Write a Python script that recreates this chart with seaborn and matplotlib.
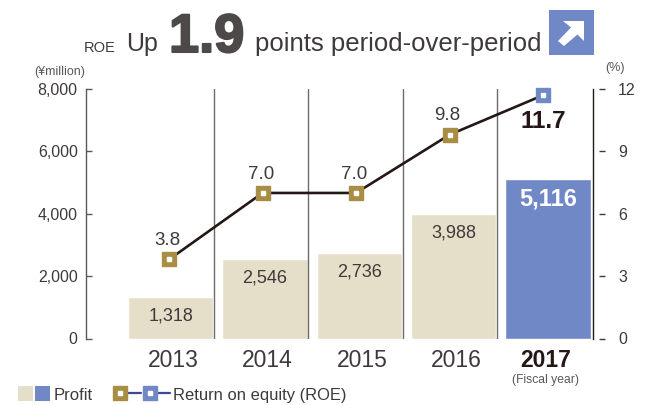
# Import libraries
import matplotlib
matplotlib.use("Agg")
import matplotlib.pyplot as plt
import matplotlib.patheffects as pe
from matplotlib.lines import Line2D
from matplotlib.patches import Polygon, Rectangle
from matplotlib.transforms import ScaledTranslation
import pandas as pd
import seaborn as sns

# Chart data
years = ["2013", "2014", "2015", "2016", "2017"]
profit = [1318, 2546, 2736, 3988, 5116]
profit_labels = ["1,318", "2,546", "2,736", "3,988", "5,116"]
roe = [3.8, 7.0, 7.0, 9.8, 11.7]
roe_labels = ["3.8", "7.0", "7.0", "9.8", "11.7"]
left_ticks = [0, 2000, 4000, 6000, 8000]
left_tick_labels = ["0", "2,000", "4,000", "6,000", "8,000"]
right_ticks = [0, 3, 6, 9, 12]

# Colors
text_color = "#3e3a39"
beige = "#e5dfca"
blue = "#7089c6"
gold = "#a88e45"
line_color = "#231815"
legend_line = "#3d4a92"

W, H = 646, 405

sns.set_theme(style="white")
plt.rcParams["font.family"] = ["Liberation Sans", "DejaVu Sans"]

fig = plt.figure(figsize=(W / 100, H / 100), dpi=100)
ax = fig.add_axes([86 / W, 1 - 338.5 / H, (592.5 - 86) / W, 249.5 / H])

df = pd.DataFrame({"year": years, "profit": profit, "roe": roe})
sns.barplot(data=df, x="year", y="profit", hue="year", palette=[beige] * 4 + [blue],
            width=0.905, legend=False, saturation=1, ax=ax)
ax.set_xlim(-0.897, 4.471)
ax.set_ylim(0, 8000)
ax.set_xlabel("")
ax.set_ylabel("")

# Spines and separators
for side in ["top", "bottom"]:
    ax.spines[side].set_visible(False)
ax.spines["left"].set_color("#595757")
ax.spines["left"].set_linewidth(1)
ax.spines["right"].set_color(line_color)
ax.spines["right"].set_linewidth(1)
for i in range(4):
    ax.axvline(i + 0.46, color="#6e6a68", lw=1, zorder=3)

# Left axis ticks
ax.set_yticks(left_ticks)
ax.set_yticklabels(left_tick_labels, fontsize=11.5, color=text_color)
ax.tick_params(axis="y", left=True, direction="in", length=4.5, width=1, color="#595757", pad=6)

# Category labels
ax.set_xticks(range(5))
ax.set_xticklabels(years, fontsize=16.5, color=text_color)
ax.tick_params(axis="x", length=0, pad=7.5)
labels = ax.get_xticklabels()
labels[-1].set_fontweight("bold")
labels[-1].set_color(line_color)
for i, lab in enumerate(labels):
    dx = -2 if i == 4 else 2.5
    lab.set_transform(lab.get_transform() + ScaledTranslation(dx / 100, 0, fig.dpi_scale_trans))

# Bar values
for i, v in enumerate(profit):
    if i == 4:
        ax.text(i, v - 280, profit_labels[i], ha="center", va="top", fontsize=17,
                fontweight="bold", color="white")
    else:
        ax.text(i, v - 320, profit_labels[i], ha="center", va="top",
                fontsize=13, color=text_color)

# ROE line on its own axes, the markers do not sit quite on the bar centres
ax2 = fig.add_axes(ax.get_position(), facecolor="none")
ax2.set_xlim(-0.888, 4.529)
ax2.set_ylim(0, 12)
for s in ax2.spines.values():
    s.set_visible(False)
ax2.xaxis.set_visible(False)
ax2.yaxis.tick_right()
ax2.set_yticks(right_ticks)
ax2.set_yticklabels([str(t) for t in right_ticks], fontsize=11.5, color=text_color)
ax2.tick_params(axis="y", length=0, pad=18.5)
for t in right_ticks:
    ax2.plot([1.0135, 1.0255], [t, t], transform=ax2.get_yaxis_transform(),
             color=text_color, lw=1, clip_on=False, solid_capstyle="butt")

x_pos = list(range(5))
sns.lineplot(x=x_pos, y=roe, color=line_color, lw=1.9, ax=ax2, zorder=4,
             errorbar=None, legend=False)
ax2.set_xlim(-0.888, 4.529)
ax2.set_ylim(0, 12)
ax2.set_xlabel("")
ax2.set_ylabel("")
for i, v in enumerate(roe):
    c = blue if i == 4 else gold
    ax2.plot([i], [v], marker="s", ms=10.5, mfc=c, mec=c, zorder=5, clip_on=False)
    ax2.plot([i], [v], marker="s", ms=2.8, mfc="white", mec="white", zorder=6, clip_on=False)
    if i == 4:
        ax2.text(i, v - 0.7, roe_labels[i], ha="center", va="top", fontsize=17.5, fontweight="bold",
                 color=line_color, zorder=6)
    else:
        ax2.text(i - 0.02, v + 0.5, roe_labels[i], ha="center", va="bottom", fontsize=13.5,
                 color=text_color, zorder=6)


# Helper for text placed in pixels
def txt(x, y, s, **kw):
    kw.setdefault("color", text_color)
    kw.setdefault("va", "baseline")
    return fig.text(x / W, 1 - y / H, s, **kw)


# Headline
txt(84, 51.5, "ROE", fontsize=10.5)
txt(126, 51.5, "Up", fontsize=18)
big = txt(169, 52, "1.9", fontsize=39, fontweight="bold", color="#4c4948")
big.set_path_effects([pe.withStroke(linewidth=1.5, foreground="#4c4948")])
txt(255, 51.5, "points period-over-period", fontsize=18.5)

# Unit labels
txt(34, 74.5, "(¥million)", fontsize=9, color="#595757")
txt(605, 70.5, "(%)", fontsize=9, color="#595757")
txt(545.5, 383, "(Fiscal year)", fontsize=8.7, color="#595757", ha="center")

# Arrow icon
fig.add_artist(Rectangle((549 / W, 1 - 55 / H), 45 / W, 45 / H, transform=fig.transFigure, color=blue, lw=0))
arrow_px = [(563, 21), (584, 21), (584, 41), (577.5, 34.5), (564, 46), (558, 41), (571, 27.5)]
fig.add_artist(Polygon([(x / W, 1 - y / H) for x, y in arrow_px], closed=True,
                       transform=fig.transFigure, color="white", lw=0))

# Legend
fig.add_artist(Rectangle((18 / W, 1 - 401 / H), 15 / W, 15 / H, transform=fig.transFigure, color=beige, lw=0))
fig.add_artist(Rectangle((35 / W, 1 - 401 / H), 15 / W, 15 / H, transform=fig.transFigure, color=blue, lw=0))
txt(54, 400, "Profit", fontsize=12)
for x0, x1, xm, c in [(120, 141, 120.5, gold), (149, 170, 149.5, blue)]:
    fig.add_artist(Line2D([x0 / W, x1 / W], [1 - 393 / H] * 2, transform=fig.transFigure,
                          color=legend_line, lw=1.6))
    fig.add_artist(Line2D([xm / W], [1 - 393 / H], transform=fig.transFigure, marker="s", ms=10.5,
                          mfc=c, mec=c, ls=""))
    fig.add_artist(Line2D([xm / W], [1 - 393 / H], transform=fig.transFigure, marker="s", ms=3,
                          mfc="white", mec="white", ls=""))
txt(173, 400, "Return on equity (ROE)", fontsize=11.9)

fig.savefig("out.png", dpi=100, facecolor="white")
